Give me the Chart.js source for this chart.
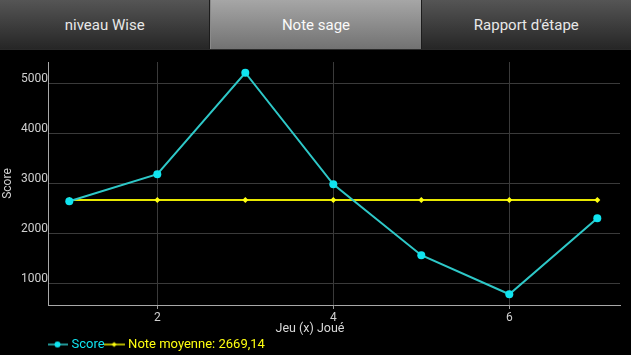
<!DOCTYPE html>
<html>
<head>
<meta charset="utf-8">
<script src="https://cdn.jsdelivr.net/npm/chart.js@4.4.1/dist/chart.umd.min.js"></script>
<style>
  html, body { margin: 0; padding: 0; background: #000; width: 631px; height: 355px; overflow: hidden; }
  .tabs { display: flex; height: 49px; border-bottom: 1px solid #2a2a2a; }
  .tab {
    flex: 1; display: flex; align-items: center; justify-content: center;
    font-family: Roboto, sans-serif; font-size: 15px; color: #e8e8e8;
    background: linear-gradient(#555555, #262626);
    border-right: 1px solid #1c1c1c; box-sizing: border-box;
  }
  .tab:last-child { border-right: none; }
  .tab.active { background: linear-gradient(#a6a6a6, #727272); color: #fafafa; border-left: 1px solid #8a8a8a; }
  /* canvas runs a few px past the window bottom, the legend box has spare room under it */
  #wrap { position: relative; width: 631px; height: 311px; }
</style>
</head>
<body>
<div class="tabs">
  <div class="tab">niveau Wise</div>
  <div class="tab active">Note sage</div>
  <div class="tab">Rapport d'étape</div>
</div>
<div id="wrap"><canvas id="scoreChart"></canvas></div>
<script>
const games = [1, 2, 3, 4, 5, 6, 7];
const scores = [2645, 3185, 5215, 2985, 1565, 785, 2305];
const average = 2669.14;
const averageLabel = 'Note moyenne: 2669,14';
const yTickValues = [1000, 2000, 3000, 4000, 5000];
const xTickValues = [2, 4, 6];

const scoreLine = '#2ec8c8';
const scoreDot = '#10e4f0';
const avgLine = '#e8e800';
const avgDot = '#ffff10';

// little "line with dot" pictures for the legend
function legendIcon(lineColor, dotColor, dotStyle) {
  const c = document.createElement('canvas');
  c.width = 21;
  c.height = 10;
  const g = c.getContext('2d');
  g.strokeStyle = lineColor;
  g.lineWidth = 1.5;
  g.beginPath();
  g.moveTo(0, 5);
  g.lineTo(21, 5);
  g.stroke();
  g.fillStyle = dotColor;
  g.beginPath();
  if (dotStyle === 'diamond') {
    g.moveTo(10.5, 2.5); g.lineTo(13, 5); g.lineTo(10.5, 7.5); g.lineTo(8, 5);
  } else {
    g.arc(10.5, 5, 3, 0, Math.PI * 2);
  }
  g.fill();
  return c;
}

const scoreIcon = legendIcon(scoreLine, scoreDot, 'circle');
const avgIcon = legendIcon(avgLine, avgDot, 'diamond');

const ctx = document.getElementById('scoreChart').getContext('2d');
const scoreChart = new Chart(ctx, {
  type: 'line',
  data: {
    datasets: [
      {
        label: 'Score',
        data: games.map((g, i) => ({ x: g, y: scores[i] })),
        borderColor: scoreLine,
        backgroundColor: scoreDot,
        pointBackgroundColor: scoreDot,
        pointBorderWidth: 0,
        pointRadius: 4,
        borderWidth: 2,
        tension: 0
      },
      {
        label: averageLabel,
        data: games.map(g => ({ x: g, y: average })),
        borderColor: avgLine,
        backgroundColor: avgDot,
        pointBackgroundColor: avgDot,
        pointBorderWidth: 0,
        pointStyle: 'rectRot',
        pointRadius: 3,
        borderWidth: 2,
        tension: 0
      }
    ]
  },
  options: {
    responsive: true,
    maintainAspectRatio: false,
    animation: false,
    layout: { padding: { top: 12, right: 11, left: 0, bottom: 0 } },
    scales: {
      x: {
        type: 'linear',
        min: 0.758,
        max: 7.258,
        afterBuildTicks: scale => { scale.ticks = xTickValues.map(v => ({ value: v })); },
        afterFit: scale => { scale.height = 17; },
        grid: { color: '#3a3a3a', lineWidth: 1, drawTicks: true, tickLength: 4, tickColor: '#9a9a9a' },
        border: { color: '#a8a8a8', width: 1 },
        ticks: {
          color: '#d0d0d0',
          padding: 3,
          maxRotation: 0,
          font: { family: 'Roboto', size: 12, lineHeight: 1 }
        }
      },
      y: {
        min: 570,
        max: 5430,
        afterBuildTicks: scale => { scale.ticks = yTickValues.map(v => ({ value: v })); },
        afterFit: scale => { scale.width = 48; },
        grid: { color: '#3a3a3a', lineWidth: 1, drawTicks: false },
        border: { color: '#a8a8a8', width: 1 },
        ticks: {
          color: '#d0d0d0',
          padding: 0,
          labelOffset: -5,
          font: { family: 'Roboto', size: 12 },
          callback: v => String(v)
        },
        title: {
          display: true,
          text: 'Score',
          color: '#d0d0d0',
          padding: { top: 1, bottom: 0 },
          font: { family: 'Roboto', size: 12 }
        }
      }
    },
    plugins: {
      title: {
        display: true,
        position: 'bottom',
        text: 'Jeu (x) Joué',
        color: '#d8d8d8',
        weight: 500,
        padding: { top: 0, bottom: 0 },
        font: { family: 'Roboto', size: 12.5, weight: 'normal', lineHeight: '14px' }
      },
      legend: {
        position: 'bottom',
        align: 'start',
        fullSize: false,
        labels: {
          usePointStyle: true,
          pointStyleWidth: 15,
          padding: 2,
          font: { family: 'Roboto', size: 13 },
          generateLabels: chart => [
            { text: 'Score', pointStyle: scoreIcon, fontColor: scoreDot, lineWidth: 0, strokeStyle: 'transparent', fillStyle: 'transparent', datasetIndex: 0 },
            { text: averageLabel, pointStyle: avgIcon, fontColor: avgDot, lineWidth: 0, strokeStyle: 'transparent', fillStyle: 'transparent', datasetIndex: 1 }
          ]
        }
      },
      tooltip: { enabled: false }
    }
  }
});
</script>
</body>
</html>
